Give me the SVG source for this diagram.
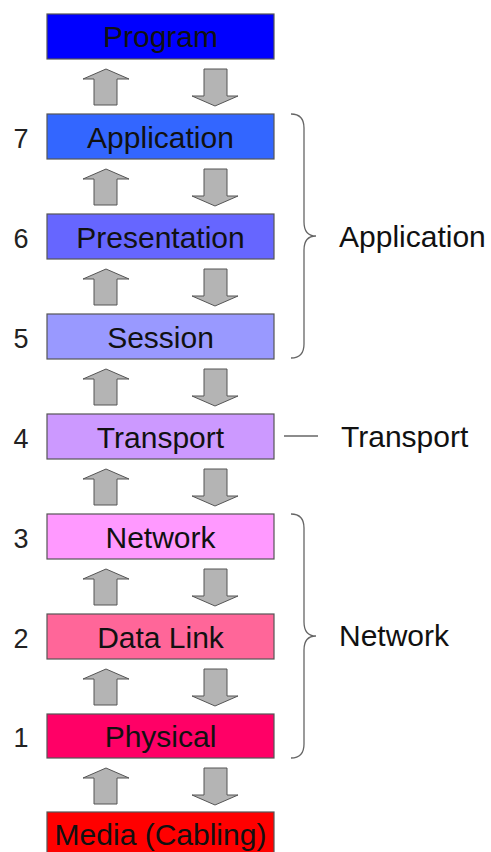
<svg xmlns="http://www.w3.org/2000/svg" width="491" height="852" viewBox="0 0 491 852">
  <defs>
    <style>
      .box { stroke: #555555; stroke-width: 1.2; }
      .lbl { font-family: "Liberation Sans", Arial, sans-serif; font-size: 30px; fill: #111111; text-anchor: middle; }
      .num { font-family: "Liberation Sans", Arial, sans-serif; font-size: 27px; fill: #222222; text-anchor: middle; }
      .side { font-family: "Liberation Sans", Arial, sans-serif; font-size: 30px; fill: #111111; }
      .arrow { fill: #b4b4b4; stroke: #555555; stroke-width: 1; stroke-linejoin: miter; }
      .brace { fill: none; stroke: #666666; stroke-width: 1.3; }
    </style>
    <!-- up and down block arrows, origin at the bottom edge of the upper box -->
    <path id="up" class="arrow" d="M106 10 L129 20 L117 20 L117 46 L94 46 L94 20 L83 20 Z"/>
    <path id="down" class="arrow" d="M204 10 L227 10 L227 37 L238 37 L215 47 L192 37 L204 37 Z"/>
  </defs>

  <rect width="491" height="852" fill="#ffffff"/>

  <!-- layer boxes -->
  <g id="program">
    <rect class="box" x="47" y="14" width="227" height="45" fill="#0000ff"/>
    <text class="lbl" x="160.5" y="47">Program</text>
  </g>
  <g id="application">
    <rect class="box" x="47" y="114" width="227" height="45" fill="#3366ff"/>
    <text class="lbl" x="160.5" y="147.5">Application</text>
    <text class="num" x="21" y="147.5">7</text>
  </g>
  <g id="presentation">
    <rect class="box" x="47" y="214" width="227" height="45" fill="#6666ff"/>
    <text class="lbl" x="160.5" y="247.5">Presentation</text>
    <text class="num" x="21" y="247.5">6</text>
  </g>
  <g id="session">
    <rect class="box" x="47" y="314" width="227" height="45" fill="#9999ff"/>
    <text class="lbl" x="160.5" y="347.5">Session</text>
    <text class="num" x="21" y="347.5">5</text>
  </g>
  <g id="transport">
    <rect class="box" x="47" y="414" width="227" height="45" fill="#cc99ff"/>
    <text class="lbl" x="160.5" y="447.5">Transport</text>
    <text class="num" x="21" y="447.5">4</text>
  </g>
  <g id="network">
    <rect class="box" x="47" y="514" width="227" height="45" fill="#ff99ff"/>
    <text class="lbl" x="160.5" y="547.5">Network</text>
    <text class="num" x="21" y="547.5">3</text>
  </g>
  <g id="datalink">
    <rect class="box" x="47" y="614" width="227" height="45" fill="#ff6699"/>
    <text class="lbl" x="160.5" y="647.5">Data Link</text>
    <text class="num" x="21" y="647.5">2</text>
  </g>
  <g id="physical">
    <rect class="box" x="47" y="714" width="227" height="44" fill="#ff0066"/>
    <text class="lbl" x="160.5" y="747">Physical</text>
    <text class="num" x="21" y="747">1</text>
  </g>
  <g id="media">
    <rect class="box" x="47" y="812" width="227" height="50" fill="#ff0000"/>
    <text class="lbl" x="160.5" y="845">Media (Cabling)</text>
  </g>

  <!-- data flow arrows between adjacent layers -->
  <g id="connectors">
    <use href="#up" transform="translate(0,59)"/>
    <use href="#down" transform="translate(0,59)"/>
    <use href="#up" transform="translate(0,159)"/>
    <use href="#down" transform="translate(0,159)"/>
    <use href="#up" transform="translate(0,259)"/>
    <use href="#down" transform="translate(0,259)"/>
    <use href="#up" transform="translate(0,359)"/>
    <use href="#down" transform="translate(0,359)"/>
    <use href="#up" transform="translate(0,459)"/>
    <use href="#down" transform="translate(0,459)"/>
    <use href="#up" transform="translate(0,559)"/>
    <use href="#down" transform="translate(0,559)"/>
    <use href="#up" transform="translate(0,659)"/>
    <use href="#down" transform="translate(0,659)"/>
    <use href="#up" transform="translate(0,758)"/>
    <use href="#down" transform="translate(0,758)"/>
  </g>

  <!-- grouping on the right -->
  <g id="group-application">
    <path class="brace" d="M291 114 Q304 114 304 128 L304 222 Q304 236 316 236 Q304 236 304 250 L304 344 Q304 358 291 358"/>
    <text class="side" x="339" y="247">Application</text>
  </g>
  <g id="group-transport">
    <line class="brace" x1="284" y1="436" x2="318" y2="436"/>
    <text class="side" x="341" y="447">Transport</text>
  </g>
  <g id="group-network">
    <path class="brace" d="M291 514 Q304 514 304 528 L304 622 Q304 636 316 636 Q304 636 304 650 L304 744 Q304 758 291 758"/>
    <text class="side" x="339" y="646">Network</text>
  </g>
</svg>
